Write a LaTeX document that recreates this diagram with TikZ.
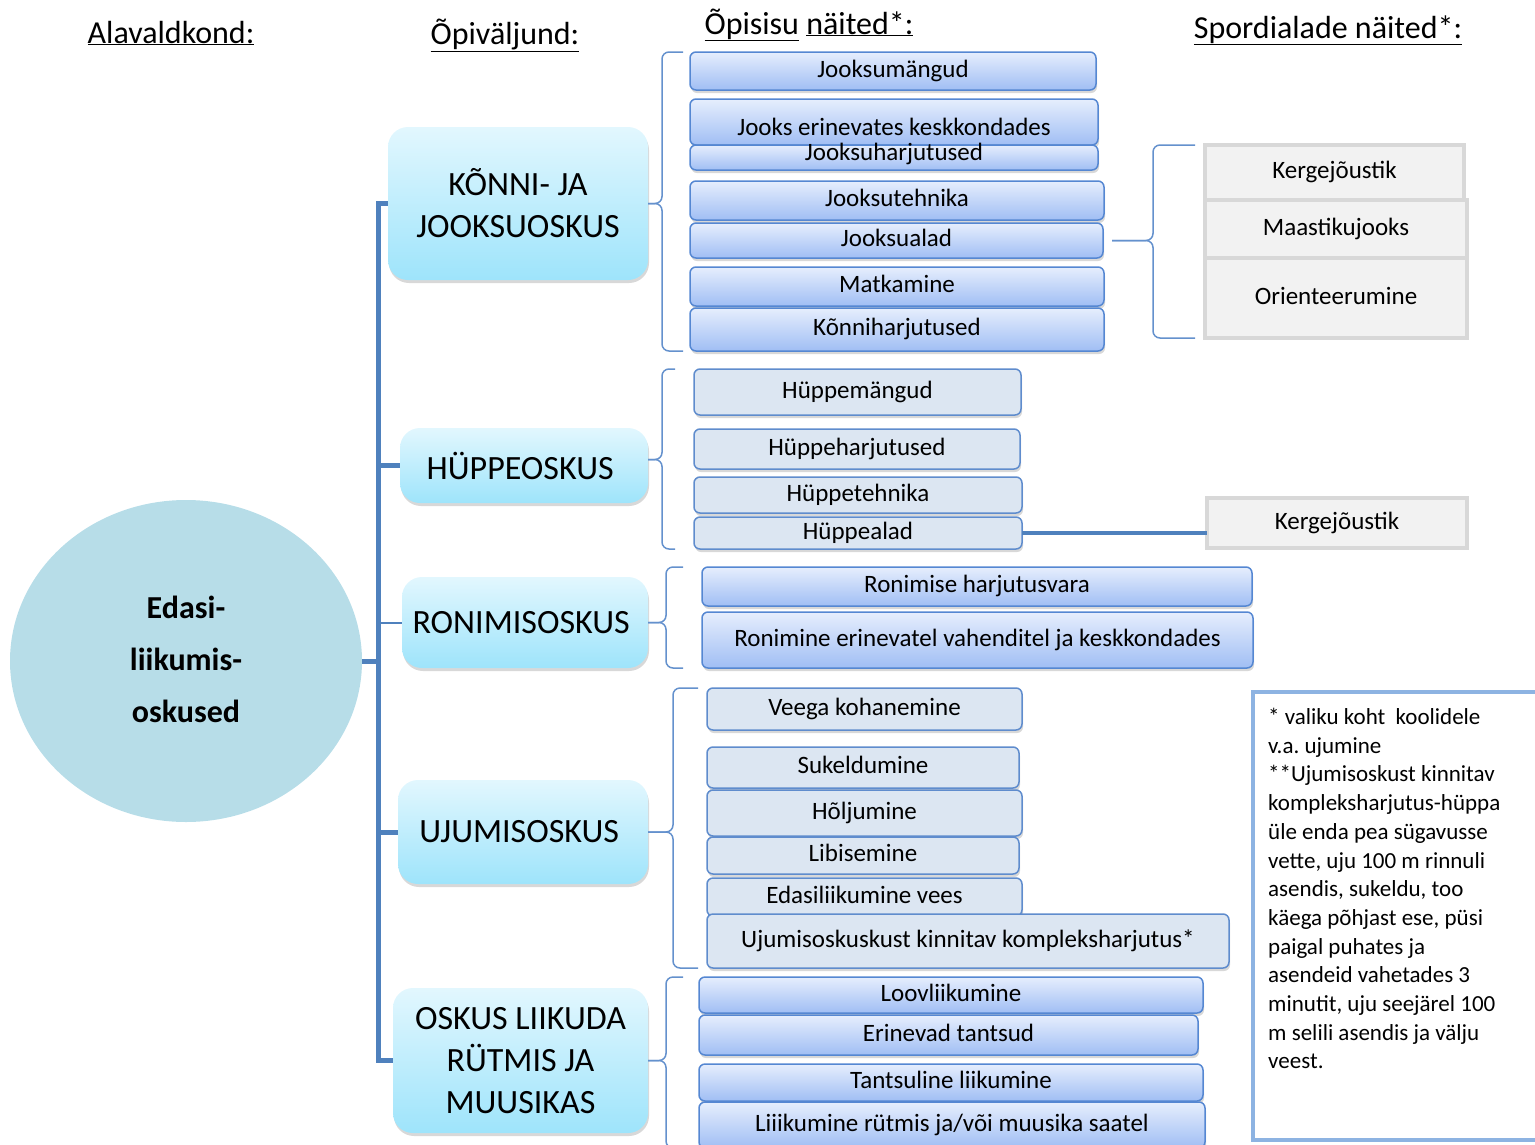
\documentclass[tikz,border=0pt]{standalone}
\usepackage{fontspec}
\setmainfont{Carlito}
\usepackage{tikz}
\frenchspacing
\definecolor{linkblue}{RGB}{79,129,189}
\definecolor{bracketblue}{RGB}{100,145,205}
\definecolor{itemline}{RGB}{85,135,210}
\definecolor{itemtop}{RGB}{230,238,253}
\definecolor{itembottom}{RGB}{160,190,244}
\definecolor{palefill}{RGB}{220,230,242}
\definecolor{paleline}{RGB}{95,140,205}
\definecolor{skilltop}{RGB}{226,247,254}
\definecolor{skillbottom}{RGB}{158,228,251}
\definecolor{circlefill}{RGB}{183,221,232}
\definecolor{sportfill}{RGB}{242,242,242}
\definecolor{sportline}{RGB}{216,216,216}
\definecolor{noteline}{RGB}{141,179,226}
\usetikzlibrary{positioning, shadows, shapes.geometric}

\begin{document}
\begin{tikzpicture}[
            x=1pt, y=-1pt,
                itembase/.style = {rectangle, rounded corners=6pt, line width=1.5pt,
                            inner sep=0pt, outer sep=0pt, text height=17pt, text depth=5pt,
                            font=\fontsize{25}{30}\selectfont,
                            drop shadow={shadow xshift=1pt, shadow yshift=-3pt, fill=black!30}},
                blueitem/.style = {itembase, draw=itemline, top color=itemtop, bottom color=itembottom},
                paleitem/.style = {itembase, draw=paleline, fill=palefill},
                skill/.style = {rectangle, rounded corners=20pt, top color=skilltop,
                            bottom color=skillbottom, align=center, inner sep=0pt, outer sep=0pt,
                            font=\fontsize{34}{42}\selectfont,
                            drop shadow={shadow xshift=1pt, shadow yshift=-3pt, fill=black!30}},
                sport/.style = {rectangle, fill=sportfill, draw=sportline, line width=4pt,
                            inner sep=0pt, outer sep=0pt, text height=17pt, text depth=5pt,
                            font=\fontsize{25}{30}\selectfont},
                header/.style = {anchor=base, inner sep=0pt, font=\fontsize{32}{38}\selectfont},
                notebox/.style = {rectangle, draw=noteline, line width=3.5pt, fill=white,
                            inner sep=0pt, outer sep=0pt},
                notetext/.style = {align=left, inner sep=0pt, font=\fontsize{23}{28.7}\selectfont},
                trunk/.style = {draw=linkblue, line width=5pt},
                stub/.style = {draw=linkblue, line width=2pt},
                sportlink/.style = {draw=linkblue, line width=4pt},
                bracket/.style = {draw=bracketblue, line width=1.5pt, rounded corners=7pt}
            ]
            \useasboundingbox (0,0) rectangle (1535,1144);
            \clip (0,0) rectangle (1535,1144);
            \node (alaval) [header] at (171,43) {\underline{Alavaldkond:}};
            \node (opivaljund) [header] at (505,44) {\underline{Õpiväljund:}};
            \node (opisisu) [header] at (809,34) {\underline{Õpisisu} \underline{näited*:}};
            \node (spordi) [header] at (1328,38) {\underline{Spordialade näited*:}};
            \node (edasi) [ellipse, fill=circlefill, minimum width=352pt, minimum height=322pt,
                align=center, font=\bfseries\fontsize{32}{52}\selectfont] at (186,661) {
                \raisebox{4pt}{Edasi-}\\\raisebox{4pt}{liikumis-}\\\raisebox{4pt}{oskused}
            };
            \node (konni) [skill, minimum width=260pt, minimum height=153pt, anchor=north east] at (648,127) {
                KÕNNI- JA\\JOOKSUOSKUS
            };
            \node (hyppe) [skill, minimum width=248pt, minimum height=75pt, below=148pt of konni.south east, anchor=north east] {
                HÜPPEOSKUS
            };
            \node (ronim) [skill, minimum width=246pt, minimum height=91pt, below=74pt of hyppe.south east, anchor=north east] {
                RONIMISOSKUS
            };
            \node (ujum) [skill, minimum width=250pt, minimum height=104pt, below=112pt of ronim.south east, anchor=north east] {
                UJUMISOSKUS
            };
            \node (oskus) [skill, minimum width=255pt, minimum height=145pt, below=104pt of ujum.south east, anchor=north east] {
                OSKUS LIIKUDA\\RÜTMIS JA\\MUUSIKAS
            };
            \node (jm) [blueitem, minimum width=406pt, minimum height=38pt, anchor=north west] at (690,52) {Jooksumängud};
            \node (jek) [blueitem, minimum width=408pt, minimum height=46pt, below=9pt of jm.south west, anchor=north west] {
                \raisebox{-7pt}{Jooks erinevates keskkondades}
            };
            \node (jh) [blueitem, minimum width=408pt, minimum height=25pt, below=0pt of jek.south west, anchor=north west] {
                \raisebox{3pt}{Jooksuharjutused}
            };
            \node (jt) [blueitem, minimum width=414pt, minimum height=39pt, below=11pt of jh.south west, anchor=north west] {Jooksutehnika};
            \node (ja) [blueitem, minimum width=413pt, minimum height=35pt, below=3pt of jt.south west, anchor=north west] {Jooksualad};
            \node (mk) [blueitem, minimum width=414pt, minimum height=39pt, below=9pt of ja.south west, anchor=north west] {Matkamine};
            \node (kh) [blueitem, minimum width=414pt, minimum height=43pt, below=2pt of mk.south west, anchor=north west] {Kõnniharjutused};
            \node (kg1) [sport, minimum width=259pt, minimum height=55pt, anchor=north west] at (1205,145) {Kergejõustik};
            \node (mj) [sport, minimum width=262pt, minimum height=58pt, below=0pt of kg1.south west, anchor=north west] {Maastikujooks};
            \node (or) [sport, minimum width=262pt, minimum height=80pt, below=0pt of mj.south west, anchor=north west] {Orienteerumine};
            \node (hm) [paleitem, minimum width=327pt, minimum height=46pt, anchor=north west] at (694,369) {Hüppemängud};
            \node (hh) [paleitem, minimum width=326pt, minimum height=40pt, below=14pt of hm.south west, anchor=north west] {Hüppeharjutused};
            \node (ht) [paleitem, minimum width=328pt, minimum height=36pt, below=8pt of hh.south west, anchor=north west] {Hüppetehnika};
            \node (ha) [paleitem, minimum width=328pt, minimum height=32pt, below=4pt of ht.south west, anchor=north west] {Hüppealad};
            \node (kg2) [sport, minimum width=260pt, minimum height=50pt, anchor=north west] at (1207,498) {Kergejõustik};
            \node (rh) [blueitem, minimum width=550pt, minimum height=39pt, anchor=north west] at (702,567) {Ronimise harjutusvara};
            \node (re) [blueitem, minimum width=551pt, minimum height=56pt, below=6pt of rh.south west, anchor=north west] {
                Ronimine erinevatel vahenditel ja keskkondades
            };
            \node (vk) [paleitem, minimum width=315pt, minimum height=42pt, anchor=north west] at (707,688) {Veega kohanemine};
            \node (su) [paleitem, minimum width=312pt, minimum height=41pt, below=17pt of vk.south west, anchor=north west] {Sukeldumine};
            \node (hj) [paleitem, minimum width=315pt, minimum height=46pt, below=2pt of su.south west, anchor=north west] {Hõljumine};
            \node (lb) [paleitem, minimum width=312pt, minimum height=37pt, below=1pt of hj.south west, anchor=north west] {Libisemine};
            \node (ev) [paleitem, minimum width=315pt, minimum height=38pt, below=4pt of lb.south west, anchor=north west] {Edasiliikumine vees};
            \node (uk) [paleitem, minimum width=522pt, minimum height=54pt, below=-2pt of ev.south west, anchor=north west] {
                Ujumisoskuskust kinnitav kompleksharjutus*
            };
            \node (lv) [blueitem, minimum width=504pt, minimum height=36pt, anchor=north west] at (699,977) {Loovliikumine};
            \node (et) [blueitem, minimum width=499pt, minimum height=40pt, below=2pt of lv.south west, anchor=north west] {Erinevad tantsud};
            \node (tl) [blueitem, minimum width=504pt, minimum height=37pt, below=9pt of et.south west, anchor=north west] {Tantsuline liikumine};
            \node (lr) [blueitem, minimum width=506pt, minimum height=46pt, below=1pt of tl.south west, anchor=north west] {
                Liiikumine rütmis ja/või muusika saatel
            };
            \node (notebox) [notebox, minimum width=300pt, minimum height=448pt, anchor=north west] at (1253,692) {};
            \node (notetext) [notetext, below right=16pt and 15pt of notebox.north west] {
                * valiku koht~ koolidele\\
                v.a. ujumine\\
                **Ujumisoskust kinnitav\\
                kompleksharjutus-hüppa\\
                üle enda pea sügavusse\\
                vette, uju 100 m rinnuli\\
                asendis, sukeldu, too\\
                käega põhjast ese, püsi\\
                paigal puhates ja\\
                asendeid vahetades 3\\
                minutit, uju seejärel 100\\
                m selili asendis ja välju\\
                veest.
            };
            \coordinate (root) at ([xshift=16pt]edasi.east);
            \draw[trunk] (edasi.east) -- (root);
            \draw[trunk] (root) |- (konni.west);
            \draw[trunk] (root) |- (hyppe.west);
            \draw[stub]  (root |- ronim.west) -- (ronim.west);
            \draw[trunk] (root) |- (ujum.west);
            \draw[trunk] (root) |- (oskus.west);
            \draw[bracket] ([xshift=-7pt]jm.north west)  -- ++(-21,0) |- (konni.east);
            \draw[bracket] ([xshift=-7pt]kh.south west)  -- ++(-21,0) |- (konni.east);
            \draw[bracket] ([xshift=-19pt]hm.north west) -- ++(-13,0) |- ([yshift=6pt]hyppe.east);
            \draw[bracket] ([xshift=-19pt]ha.south west) -- ++(-13,0) |- ([yshift=6pt]hyppe.east);
            \draw[bracket] ([xshift=-19pt]rh.north west) -- ++(-17,0) |- (ronim.east);
            \draw[bracket] ([xshift=-19pt]re.south west) -- ++(-17,0) |- (ronim.east);
            \draw[bracket] ([xshift=-9pt]vk.north west)  -- ++(-25,0) |- (ujum.east);
            \draw[bracket] ([xshift=-9pt]uk.south west)  -- ++(-25,0) |- (ujum.east);
            \draw[bracket] ([xshift=-16pt]lv.north west) -- ++(-17,0) |- (oskus.east);
            \draw[bracket] ([xshift=-16pt]lr.south west) -- ++(-17,0) |- (oskus.east);
            \draw[bracket] ([xshift=-10pt]kg1.north west) -- ++(-42,0) |- ([xshift=9pt]ja.east);
            \draw[bracket] ([xshift=-10pt]or.south west)  -- ++(-42,0) |- ([xshift=9pt]ja.east);
            \draw[sportlink] (ha.east) -- (ha.east -| kg2.west);
        \end{tikzpicture}
\end{document}
